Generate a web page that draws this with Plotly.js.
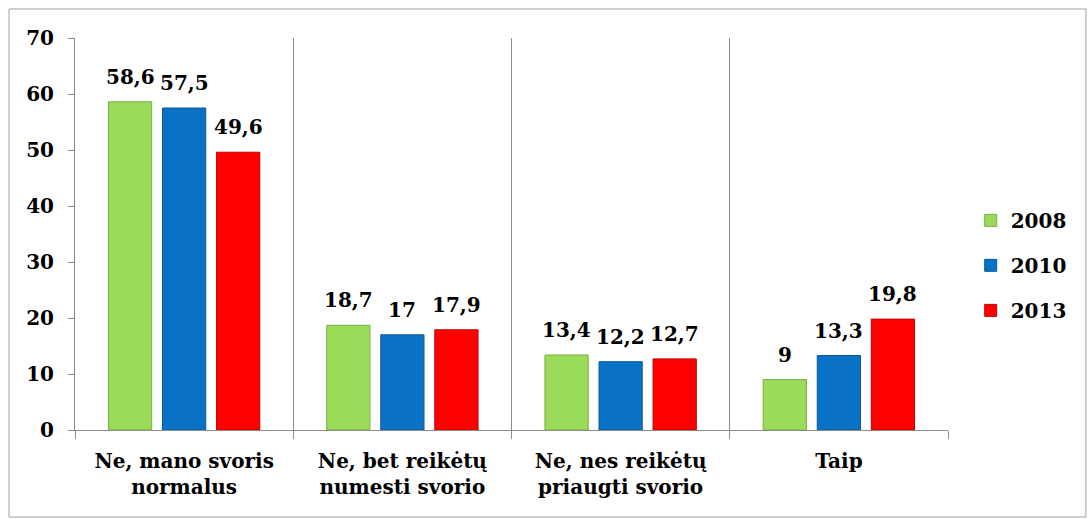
<!DOCTYPE html>
<html>
<head>
<meta charset="utf-8">
<script src="https://cdn.plot.ly/plotly-3.0.1.min.js"></script>
<style>
html,body{margin:0;padding:0;background:#fff;}
#chart{width:1089px;height:519px;}
</style>
</head>
<body>
<div id="chart"></div>
<script>
const categories = ["Ne, mano svoris<br>normalus", "Ne, bet reikėtų<br>numesti svorio", "Ne, nes reikėtų<br>priaugti svorio", "Taip"];
const seriesNames = ["2008", "2010", "2013"];
const values2008 = [58.6, 18.7, 13.4, 9];
const values2010 = [57.5, 17, 12.2, 13.3];
const values2013 = [49.6, 17.9, 12.7, 19.8];
const yTicks = [0, 10, 20, 30, 40, 50, 60, 70];

const colors = ["#9BDB5A", "#0A72C4", "#FF0000"];
const lineColors = ["#7AAE43", "#0A5A9A", "#C00000"];
const allValues = [values2008, values2010, values2013];
const FONT = "DejaVu Serif";
const FS = 20;
const fmt = v => String(v).replace('.', ',');

const traces = allValues.map((vals, i) => ({
  type: 'bar',
  name: '<b>' + seriesNames[i] + '</b>',
  x: categories,
  y: vals,
  legendgroup: 'g' + i,
  marker: {color: colors[i], line: {color: lineColors[i], width: 1}},
  hoverinfo: 'skip'
}));

const annotations = [];
allValues.forEach((vals, i) => {
  vals.forEach((v, j) => {
    annotations.push({
      x: categories[j], y: v, xref: 'x', yref: 'y',
      text: '<b>' + fmt(v) + '</b>',
      showarrow: false, yanchor: 'bottom',
      xshift: (i - 1) * 54, yshift: 11,
      font: {family: FONT, size: FS, color: '#000'}
    });
  });
});

const layout = {
  width: 1089, height: 519,
  font: {family: FONT, size: FS, color: '#000'},
  margin: {l: 75, r: 141, t: 38, b: 89},
  paper_bgcolor: '#fff', plot_bgcolor: '#fff',
  barmode: 'group', bargap: 0.257, bargroupgap: 0.2,
  showlegend: true,
  legend: {
    x: 1.026, y: 0.42, xanchor: 'left', yanchor: 'middle',
    font: {family: FONT, size: FS, color: '#000'},
    traceorder: 'grouped', tracegroupgap: 16, itemwidth: 30
  },
  xaxis: {
    type: 'category',
    tickson: 'boundaries', ticks: 'outside', ticklen: 8, tickcolor: '#8C8C8C',
    showgrid: true, gridcolor: '#8C8C8C', gridwidth: 1,
    showline: true, linecolor: '#8C8C8C', linewidth: 1,
    ticklabelstandoff: 13,
    tickfont: {family: FONT, size: FS, color: '#000'},
    fixedrange: true
  },
  yaxis: {
    range: [0, 70], tickvals: yTicks, ticktext: yTicks.map(v => '<b>' + v + '</b>'),
    ticks: 'outside', ticklen: 6, tickcolor: '#8C8C8C',
    showgrid: false, zeroline: false,
    showline: true, linecolor: '#8C8C8C', linewidth: 1,
    ticklabelstandoff: 10,
    tickfont: {family: FONT, size: FS, color: '#000'},
    fixedrange: true
  },
  annotations: annotations,
  shapes: [{
    type: 'rect', xref: 'paper', yref: 'paper',
    x0: -0.0756, x1: 1.158, y0: -0.222, y1: 1.074,
    line: {color: '#A0A0A0', width: 1}, fillcolor: 'rgba(0,0,0,0)', layer: 'below'
  }]
};
layout.xaxis.ticktext = categories.map(c => '<b>' + c.replace('<br>', '</b><br><b>') + '</b>');
layout.xaxis.tickvals = categories;

Plotly.newPlot('chart', traces, layout, {displayModeBar: false, staticPlot: true});
</script>
</body>
</html>
